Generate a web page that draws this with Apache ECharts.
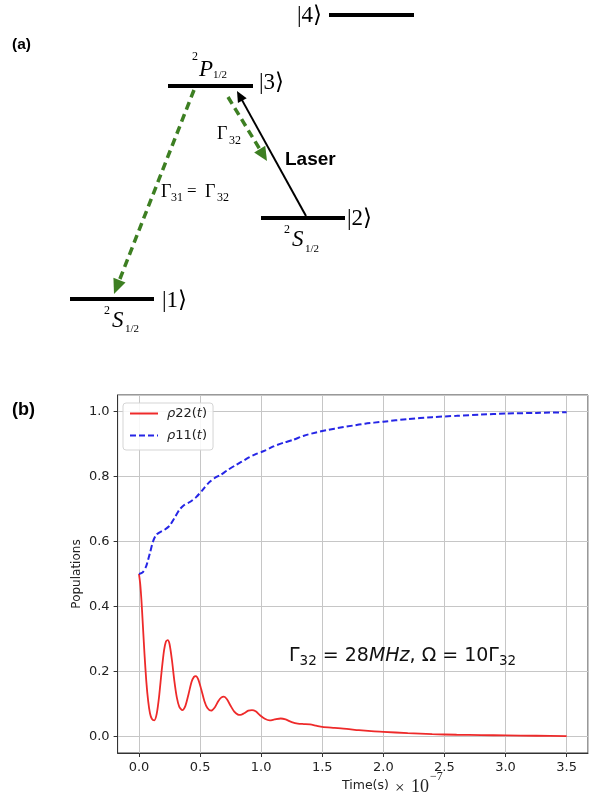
<!DOCTYPE html>
<html><head><meta charset="utf-8">
<script src="https://cdn.jsdelivr.net/npm/echarts@6/dist/echarts.min.js"></script>
<style>html,body{margin:0;padding:0;background:#fff}#c{width:591px;height:801px}</style>
</head><body><div id="c"></div>
<script>
// ---- data (time in units of 1e-7 s) ----
const rho22Time = [0.000,0.010,0.020,0.030,0.045,0.060,0.075,0.090,0.105,0.125,0.145,0.165,0.185,0.205,0.220,0.235,0.250,0.270,0.290,0.310,0.330,0.355,0.380,0.405,0.430,0.450,0.466,0.485,0.510,0.535,0.560,0.590,0.620,0.650,0.675,0.695,0.720,0.750,0.780,0.810,0.830,0.860,0.895,0.925,0.955,0.990,1.030,1.070,1.110,1.160,1.200,1.250,1.300,1.350,1.400,1.450,1.500,1.600,1.700,1.800,1.900,2.000,2.200,2.400,2.600,2.800,3.000,3.250,3.500];
const rho22Vals = [0.500,0.470,0.420,0.355,0.255,0.170,0.110,0.072,0.055,0.050,0.070,0.125,0.200,0.265,0.292,0.297,0.285,0.235,0.170,0.120,0.092,0.082,0.095,0.130,0.168,0.184,0.186,0.176,0.145,0.110,0.088,0.080,0.090,0.110,0.121,0.123,0.115,0.095,0.077,0.068,0.067,0.072,0.080,0.082,0.078,0.066,0.055,0.050,0.053,0.056,0.053,0.045,0.040,0.039,0.038,0.034,0.030,0.027,0.024,0.020,0.017,0.015,0.011,0.008,0.006,0.005,0.004,0.003,0.002];
const rho11Time = [0.000,0.030,0.060,0.090,0.115,0.140,0.170,0.210,0.250,0.290,0.330,0.370,0.420,0.470,0.520,0.570,0.620,0.670,0.720,0.780,0.840,0.900,0.960,1.030,1.100,1.180,1.260,1.350,1.450,1.550,1.650,1.750,1.850,2.000,2.200,2.400,2.600,2.800,3.000,3.250,3.500];
const rho11Vals = [0.500,0.505,0.525,0.565,0.600,0.620,0.628,0.636,0.648,0.672,0.697,0.712,0.722,0.737,0.758,0.780,0.795,0.805,0.818,0.832,0.845,0.858,0.869,0.879,0.892,0.903,0.912,0.925,0.935,0.943,0.950,0.956,0.962,0.968,0.976,0.982,0.986,0.990,0.993,0.995,0.997];
const xTickLabels = ['0.0','0.5','1.0','1.5','2.0','2.5','3.0','3.5'];
const yTickLabels = ['0.0','0.2','0.4','0.6','0.8','1.0'];
const seriesNames = ['ρ22(t)','ρ11(t)'];

const zip = (a, b) => a.map((v, i) => [v, b[i]]);
const SERIF = '"Liberation Serif","DejaVu Serif",serif';
const SANS = '"DejaVu Sans",sans-serif';
const ARIAL = '"Liberation Sans",Arial,sans-serif';
const GREEN = '#3d7f22';

function txt(x, y, text, size, family, extra) {
  return { type: 'text', x: x, y: y, z: 20,
    style: Object.assign({ text: text, fontSize: size, fontFamily: family, fill: '#000',
      align: 'left', verticalAlign: 'middle' }, extra || {}) };
}
function hline(x1, x2, y) {
  return { type: 'line', z: 20, shape: { x1: x1, y1: y, x2: x2, y2: y }, style: { stroke: '#000', lineWidth: 4 } };
}
function arrow(x1, y1, x2, y2, color, width, dash, hl, hw) {
  const dx = x2 - x1, dy = y2 - y1, L = Math.sqrt(dx * dx + dy * dy);
  const ux = dx / L, uy = dy / L, px = -uy, py = ux;
  const bx = x2 - ux * hl, by = y2 - uy * hl;
  return [
    { type: 'line', z: 20, shape: { x1: x1, y1: y1, x2: bx + ux * 2, y2: by + uy * 2 },
      style: { stroke: color, lineWidth: width, lineDash: dash } },
    { type: 'polygon', z: 21, shape: { points: [[x2, y2], [bx + px * hw, by + py * hw], [bx - px * hw, by - py * hw]] },
      style: { fill: color } }
  ];
}

const graphics = [].concat(
  [txt(12, 45, '(a)', 15.5, ARIAL, { fontWeight: 'bold' }),
   txt(12, 410, '(b)', 18, ARIAL, { fontWeight: 'bold' }),
   hline(329, 414, 15), hline(168, 253, 86), hline(261, 345, 218), hline(70, 154, 299),
   txt(297, 16, '|4⟩', 23, SERIF), txt(259, 83, '|3⟩', 23, SERIF),
   txt(347, 219, '|2⟩', 23, SERIF), txt(162, 301, '|1⟩', 23, SERIF),
   txt(192, 57, '2', 12, SERIF), txt(199, 70, 'P', 23, SERIF, { fontStyle: 'italic' }), txt(213, 75, '1/2', 11, SERIF),
   txt(284, 230, '2', 12, SERIF), txt(292, 240, 'S', 23, SERIF, { fontStyle: 'italic' }), txt(305, 249, '1/2', 11, SERIF),
   txt(104, 311, '2', 12, SERIF), txt(112, 321, 'S', 23, SERIF, { fontStyle: 'italic' }), txt(125, 329, '1/2', 11, SERIF),
   txt(217, 134, 'Γ', 18, SERIF), txt(229, 141, '32', 12, SERIF),
   txt(161, 192, 'Γ', 18, SERIF), txt(171, 198, '31', 12, SERIF), txt(187, 192, '=', 17, SERIF),
   txt(205, 192, 'Γ', 18, SERIF), txt(217, 198, '32', 12, SERIF),
   txt(285, 160, 'Laser', 19, ARIAL, { fontWeight: 'bold' })],
  arrow(194, 90, 114, 294, GREEN, 3.5, [8, 5], 15, 6.5),
  arrow(228, 97, 267, 161, GREEN, 3.5, [8, 5], 14, 6.5),
  arrow(306, 216, 237, 91, '#000', 2, null, 11, 5),
  [
   // x axis title
   txt(342, 786, 'Time(s)', 12.5, SANS, { fill: '#222' }),
   txt(395, 789, '×', 17, SERIF, { fill: '#222' }),
   txt(411, 787, '10', 18, SERIF, { fill: '#222' }),
   txt(430, 777, '−7', 12, SERIF, { fill: '#222' }),
   // annotation
   { type: 'text', x: 289, y: 656, z: 20, style: {
      text: '{g|Γ}{s|32}{g| = 28}{i|MHz}{g|, Ω = 10Γ}{s|32}',
      verticalAlign: 'middle', align: 'left', fill: '#111',
      rich: {
        g: { fontSize: 19, fontFamily: SANS, lineHeight: 24, fill: '#111' },
        i: { fontSize: 19, fontFamily: SANS, fontStyle: 'italic', lineHeight: 24, fill: '#111' },
        s: { fontSize: 13.5, fontFamily: SANS, lineHeight: 12, verticalAlign: 'bottom', fill: '#111' }
      } } }
  ]
);

const chart = echarts.init(document.getElementById('c'), null, { renderer: 'canvas' });
chart.setOption({
  animation: false,
  backgroundColor: '#fff',
  grid: { left: 117.6, top: 395, right: 3, bottom: 48, show: true, borderColor: '#333', borderWidth: 1, backgroundColor: 'transparent' },
  legend: {
    orient: 'vertical', left: 123, top: 403, padding: [4, 6, 8, 6], itemGap: 9,
    itemWidth: 28, itemHeight: 14,
    backgroundColor: 'rgba(255,255,255,0.85)', borderColor: '#d5d5d5', borderWidth: 1, borderRadius: 3,
    itemStyle: { opacity: 0, borderWidth: 0 },
    data: seriesNames,
    formatter: function (n) {
      const num = n.slice(1, 3);
      return '{i|ρ}{n|' + num + '(}{i|t}{n|)}';
    },
    textStyle: { padding: [0, 0, 0, 4], rich: {
      i: { fontFamily: SANS, fontSize: 13, fontStyle: 'italic', color: '#222' },
      n: { fontFamily: SANS, fontSize: 13, color: '#222' } } }
  },
  xAxis: {
    type: 'value', min: -0.175, max: 3.675, minInterval: 0.5, maxInterval: 0.5, splitNumber: 7,
    axisLine: { show: true, onZero: false, lineStyle: { color: '#333', width: 1 } },
    axisTick: { show: true, length: 4, lineStyle: { color: '#333' } },
    axisLabel: { margin: 8, fontSize: 13, fontFamily: SANS, color: '#222', showMinLabel: false, showMaxLabel: false,
      formatter: function (v) { const i = Math.round(v / 0.5); return (Math.abs(v - i * 0.5) < 1e-6 && xTickLabels[i]) || ''; } },
    splitLine: { show: true, lineStyle: { color: '#c6c6c6', width: 1 } }
  },
  yAxis: {
    type: 'value', min: -0.05, max: 1.05, minInterval: 0.2, maxInterval: 0.2, splitNumber: 6,
    name: 'Populations', nameLocation: 'middle', nameGap: 35, nameMoveOverlap: false,
    nameTextStyle: { fontSize: 12, fontFamily: SANS, color: '#222' },
    axisLine: { show: true, onZero: false, lineStyle: { color: '#333', width: 1 } },
    axisTick: { show: true, length: 4, lineStyle: { color: '#333' } },
    axisLabel: { margin: 8, fontSize: 13, fontFamily: SANS, color: '#222', showMinLabel: false, showMaxLabel: false,
      formatter: function (v) { const i = Math.round(v / 0.2); return (Math.abs(v - i * 0.2) < 1e-6 && yTickLabels[i]) || ''; } },
    splitLine: { show: true, lineStyle: { color: '#c6c6c6', width: 1 } }
  },
  series: [
    { name: seriesNames[0], type: 'line', data: zip(rho22Time, rho22Vals), symbol: 'none', smooth: 0.25,
      lineStyle: { color: '#ee2a2a', width: 1.8 }, itemStyle: { color: '#ee2a2a' } },
    { name: seriesNames[1], type: 'line', data: zip(rho11Time, rho11Vals), symbol: 'none', smooth: 0.25,
      lineStyle: { color: '#2626e6', width: 2, type: [6, 3] }, itemStyle: { color: '#2626e6' } }
  ],
  graphic: graphics
});
</script></body></html>
